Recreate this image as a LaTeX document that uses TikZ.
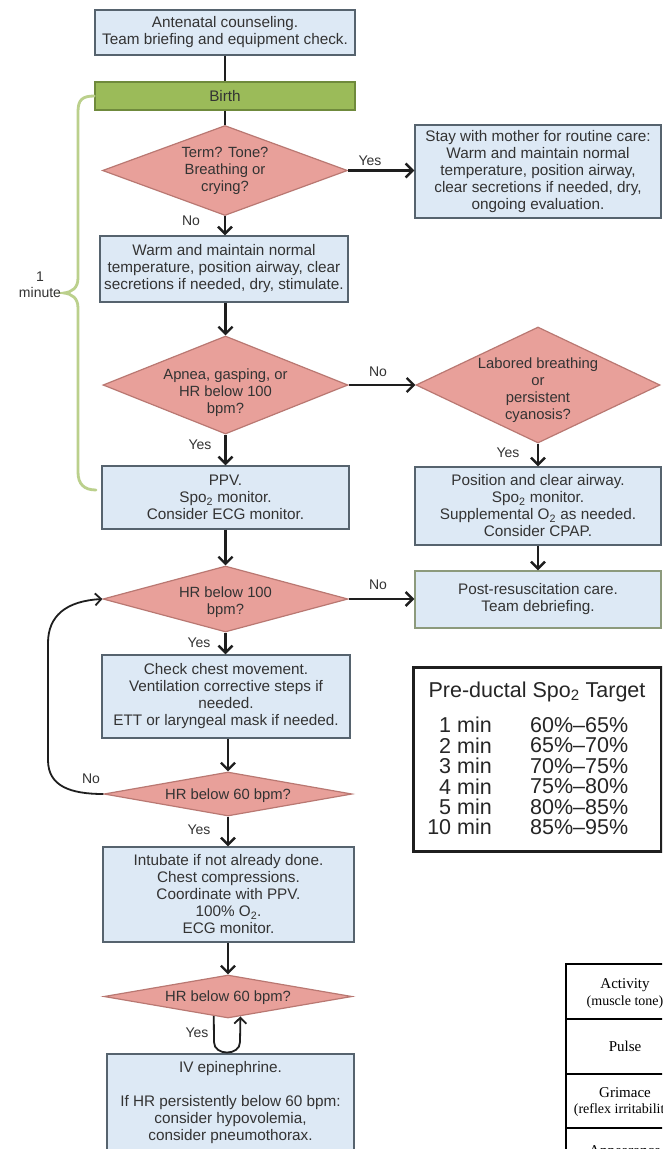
\documentclass[tikz,border=0pt]{standalone}
\usepackage{fontspec}
\setmainfont{Liberation Sans}
\newfontfamily\apgarfont{Liberation Serif}
\usetikzlibrary{arrows.meta,shapes.geometric,calc}
\definecolor{boxfill}{HTML}{DDE9F5}
\definecolor{boxline}{HTML}{56636E}
\definecolor{postline}{HTML}{8C9A7C}
\definecolor{birthfill}{HTML}{9BBB59}
\definecolor{birthline}{HTML}{6F8A3C}
\definecolor{diafill}{HTML}{E8A09A}
\definecolor{dialine}{HTML}{B97872}
\definecolor{txt}{HTML}{333333}
\definecolor{conncol}{HTML}{1E1E1E}
\definecolor{bracecol}{HTML}{BBD08C}
\begin{document}
\begin{tikzpicture}[x=1pt,y=-1pt,
  box/.style={draw=boxline, fill=boxfill, line width=1.3pt, rectangle, inner sep=0pt,
    align=center, text=txt, font=\fontsize{15.3}{17}\selectfont},
  dia/.style={draw=dialine, fill=diafill, line width=1.2pt, diamond, inner sep=0pt},
  dlab/.style={align=center, text=txt, font=\fontsize{14.8}{17}\selectfont},
  lab/.style={text=txt, inner sep=0pt, font=\fontsize{14}{16}\selectfont},
  conn/.style={draw=conncol, line width=2.4pt},
  arr/.style={conn, -{Straight Barb[length=7pt,width=14pt]}},
  looparr/.style={draw=conncol, line width=1.8pt, -{Straight Barb[length=6pt,width=12pt]}},
  tfont/.style={inner sep=0pt, text=black!85, font=\fontsize{21.5}{21.5}\selectfont},
  afont/.style={inner sep=0pt, text=black, font=\apgarfont\fontsize{15}{17}\selectfont},
  asub/.style={inner sep=0pt, text=black, font=\apgarfont\fontsize{14}{16}\selectfont},
]
\useasboundingbox (0,0) rectangle (662,1149);
\fill[white] (0,0) rectangle (662,1149);
\clip (0,0) rectangle (662,1149);

% ---------- boxes ----------
\node[box, minimum width=260pt, minimum height=45pt] (top) at (225,32.5)
  {Antenatal counseling.\\Team briefing and equipment check.};
\node[box, draw=birthline, fill=birthfill, minimum width=260pt, minimum height=28pt] (birth) at (225,96) {Birth};
\node[dia, minimum width=245pt, minimum height=90pt,
  label={[dlab]center:{Term? Tone?\\Breathing or\\crying?}}] (d1) at (225,170.5) {};
\node[box, minimum width=246pt, minimum height=93pt] (stay) at (538,171.5)
  {Stay with mother for routine care:\\Warm and maintain normal\\temperature, position airway,\\clear secretions if needed, dry,\\ongoing evaluation.};
\node[box, minimum width=248pt, minimum height=66pt] (warm) at (224,269)
  {Warm and maintain normal\\temperature, position airway, clear\\secretions if needed, dry, stimulate.};
\node[dia, minimum width=245pt, minimum height=98pt,
  label={[dlab,yshift=-8pt]center:{Apnea, gasping, or\\HR below 100\\bpm?}}] (d2) at (225.5,385) {};
\node[dia, minimum width=244pt, minimum height=116pt,
  label={[dlab,yshift=-5pt]center:{Labored breathing\\or\\persistent\\cyanosis?}}] (d3) at (538,385) {};
\node[box, minimum width=247pt, minimum height=63pt] (ppv) at (225.5,497.5)
  {PPV.\\Spo\textsubscript{2} monitor.\\Consider ECG monitor.};
\node[box, minimum width=246pt, minimum height=78pt] (pos) at (538,506)
  {Position and clear airway.\\Spo\textsubscript{2} monitor.\\Supplemental O\textsubscript{2} as needed.\\Consider CPAP.};
\node[box, draw=postline, minimum width=246pt, minimum height=57pt] (post) at (538,599.5)
  {Post-resuscitation care.\\Team debriefing.};
\node[dia, minimum width=245pt, minimum height=66pt,
  label={[dlab,yshift=-3pt]center:{HR below 100\\bpm?}}] (d4) at (225.5,599) {};
\node[box, minimum width=248pt, minimum height=83pt] (check) at (226,696.5)
  {Check chest movement.\\Ventilation corrective steps if\\needed.\\ETT or laryngeal mask if needed.};
\node[dia, minimum width=248pt, minimum height=44pt,
  label={[dlab,yshift=-2pt]center:{HR below 60 bpm?}}] (d5) at (228,794) {};
\node[box, minimum width=251pt, minimum height=95pt] (intub) at (228.5,894.5)
  {Intubate if not already done.\\Chest compressions.\\Coordinate with PPV.\\100\% O\textsubscript{2}.\\ECG monitor.};
\node[dia, minimum width=248pt, minimum height=43pt,
  label={[dlab,yshift=-1.5pt]center:{HR below 60 bpm?}}] (d6) at (228,996.5) {};
\node[box, minimum width=247pt, minimum height=97pt] (iv) at (230.5,1102.5)
  {IV epinephrine.\\[17pt]If HR persistently below 60 bpm:\\consider hypovolemia,\\consider pneumothorax.};

% ---------- connectors ----------
\draw[conn] (top.south) -- (top.south |- birth.north);
\draw[conn] (birth.south) -- (birth.south |- d1.north);
\draw[arr] (d1.east) -- (d1.east -| stay.west);
\draw[arr] (d1.south) -- (d1.south |- warm.north);
\draw[arr] (warm.south -| d2.north) -- (d2.north);
\draw[arr] (d2.east) -- (d2.east -| d3.west);
\draw[arr] (d2.south) -- (d2.south |- ppv.north);
\draw[arr] (d3.south) -- (d3.south |- pos.north);
\draw[arr] (pos.south) -- (pos.south |- post.north);
\draw[arr] (ppv.south -| d4.north) -- (d4.north);
\draw[arr] (d4.east) -- (d4.east -| post.west);
\draw[arr] (d4.south) -- (d4.south |- check.north);
\draw[arr] (check.south -| d5.north) -- (d5.north);
\draw[looparr] (d5.west) .. controls (70,794) and (48,786) .. (48,760) -- (48,643)
  .. controls (48,616) and (66,601) .. (d4.west);
\draw[arr] (d5.south) -- (d5.south |- intub.north);
\draw[arr] (intub.south -| d6.north) -- (d6.north);
\draw[looparr] (d6.234) -- (214,1042) .. controls (214,1056) and (240,1056) .. (240,1042) -- (d6.302);

% ---------- connector labels ----------
\node[lab] at (370,161) {Yes};
\node[lab] at (191,221) {No};
\node[lab] at (378,372) {No};
\node[lab] at (200,445) {Yes};
\node[lab] at (508,453) {Yes};
\node[lab] at (378,585) {No};
\node[lab] at (199,643) {Yes};
\node[lab] at (91,779) {No};
\node[lab] at (199,830) {Yes};
\node[lab] at (197,1033) {Yes};

% ---------- one-minute brace ----------
\coordinate (braceend) at (96,490);
\draw[bracecol, line width=2.8pt, line cap=round]
  (birth.west) .. controls (82,96) and (78,100) .. (78,112) -- (78,278)
  .. controls (78,288) and (72,292) .. (64,293)
  .. controls (72,294) and (78,298) .. (78,308) -- (78,472)
  .. controls (78,484) and (84,490) .. (braceend);
\node[lab, align=center, font=\fontsize{14}{16}\selectfont] (onemin) at (40,285) {1\\minute};

% ---------- SpO2 table ----------
\draw[line width=3pt, draw=black!88] (413,667) rectangle (661,851);
\node[tfont] (sptitle) at (537,692) {Pre-ductal Spo\textsubscript{2} Target};
\foreach \t/\v [count=\i from 0] in {1 min/60\%\textendash65\%, 2 min/65\%\textendash70\%,
  3 min/70\%\textendash75\%, 4 min/75\%\textendash80\%, 5 min/80\%\textendash85\%,
  10 min/85\%\textendash95\%}{
  \node[tfont, anchor=east] at (492,725+20.4*\i) {\t};
  \node[tfont, anchor=west] at (530,725+20.4*\i) {\v};
}

% ---------- Apgar table (partly visible, cut by the edge as in the source) ----------
\draw[line width=1.2pt] (700,964) -- (566,964) -- (566,1170);
\draw[line width=1.2pt] (566,1019) -- (700,1019);
\draw[line width=1.2pt] (566,1074) -- (700,1074);
\draw[line width=1.2pt] (566,1128) -- (700,1128);
\node[afont] at (625,985) {Activity};
\node[asub] at (625,1002) {(muscle tone)};
\node[afont] at (625,1046) {Pulse};
\node[afont] at (625,1093) {Grimace};
\node[asub] at (625,1110) {(reflex irritability)};
\node[afont] at (625,1152) {Appearance};
\end{tikzpicture}
\end{document}
